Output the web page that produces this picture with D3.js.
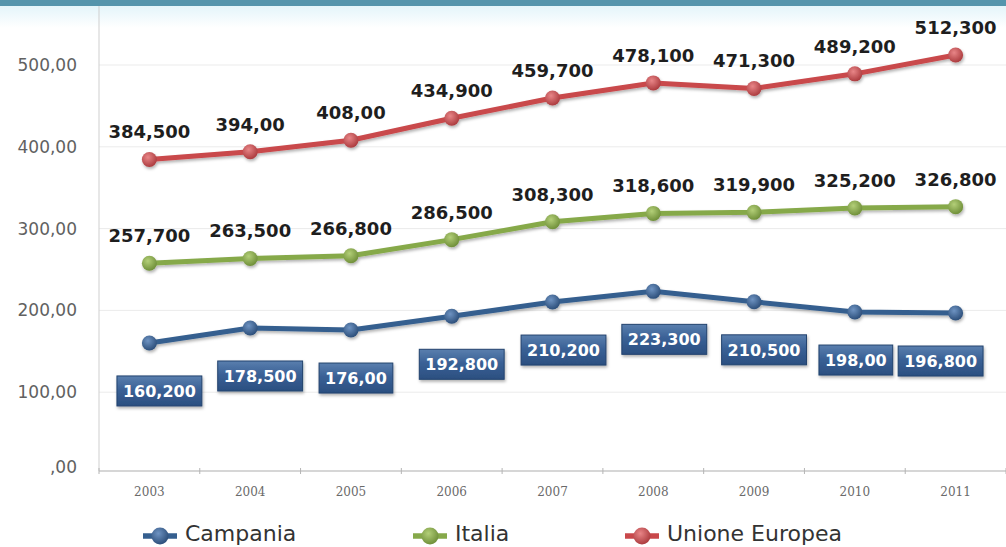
<!DOCTYPE html>
<html>
<head>
<meta charset="utf-8">
<script src="https://cdn.jsdelivr.net/npm/d3@7"></script>
<style>
  html, body { margin: 0; padding: 0; background: #ffffff; }
  svg { display: block; }
</style>
</head>
<body>
<svg id="chart" width="1006" height="547"></svg>
<script>
// Years on the x axis
const years = ["2003", "2004", "2005", "2006", "2007", "2008", "2009", "2010", "2011"];

// Series values
const campania = [160.2, 178.5, 176.0, 192.8, 210.2, 223.3, 210.5, 198.0, 196.8];
const italia = [257.7, 263.5, 266.8, 286.5, 308.3, 318.6, 319.9, 325.2, 326.8];
const unioneEuropea = [384.5, 394.0, 408.0, 434.9, 459.7, 478.1, 471.3, 489.2, 512.3];

// Value labels as printed
const campaniaLabels = ["160,200", "178,500", "176,00", "192,800", "210,200", "223,300", "210,500", "198,00", "196,800"];
const italiaLabels = ["257,700", "263,500", "266,800", "286,500", "308,300", "318,600", "319,900", "325,200", "326,800"];
const ueLabels = ["384,500", "394,00", "408,00", "434,900", "459,700", "478,100", "471,300", "489,200", "512,300"];

// Y axis ticks
const yTicks = [0, 100, 200, 300, 400, 500];
const yTickLabels = [",00", "100,00", "200,00", "300,00", "400,00", "500,00"];

const seriesNames = ["Campania", "Italia", "Unione Europea"];

(function () {
const svg = d3.select("#chart");
const W = 1006;
const mLeft = 99, mRight = 1006, mTop = 6, mBottom = 471;

const x = d3.scaleBand().domain(years).range([mLeft, mRight]).paddingInner(0).paddingOuter(0);
const y = d3.scaleLinear().domain([0, 500]).range([474, 65]);

const defs = svg.append("defs");

// header band
const hg = defs.append("linearGradient").attr("id", "headFade").attr("x1", 0).attr("y1", 0).attr("x2", 0).attr("y2", 1);
hg.append("stop").attr("offset", "0%").attr("stop-color", "#e4f5fa");
hg.append("stop").attr("offset", "100%").attr("stop-color", "#ffffff");
svg.append("rect").attr("x", 0).attr("y", 6).attr("width", W).attr("height", 22).attr("fill", "url(#headFade)");
svg.append("rect").attr("x", 0).attr("y", 0).attr("width", W).attr("height", 6).attr("fill", "#5595ac");

// marker gradients
const palettes = {
  Campania: { line: "#355f8f", light: "#6e93c2", dark: "#284a75" },
  Italia: { line: "#86a94a", light: "#b3cf78", dark: "#6b8b35" },
  "Unione Europea": { line: "#c9484b", light: "#e88587", dark: "#a8373a" }
};
seriesNames.forEach((name, i) => {
  const g = defs.append("radialGradient").attr("id", "mk" + i).attr("cx", "40%").attr("cy", "35%").attr("r", "70%");
  g.append("stop").attr("offset", "0%").attr("stop-color", palettes[name].light);
  g.append("stop").attr("offset", "100%").attr("stop-color", palettes[name].dark);
});
const bg = defs.append("linearGradient").attr("id", "boxFill").attr("x1", 0).attr("y1", 0).attr("x2", 0).attr("y2", 1);
bg.append("stop").attr("offset", "0%").attr("stop-color", "#5a7fae");
bg.append("stop").attr("offset", "45%").attr("stop-color", "#3a6196");
bg.append("stop").attr("offset", "100%").attr("stop-color", "#2b4f80");

const shadow = defs.append("filter").attr("id", "shadow").attr("x", "-10%").attr("y", "-50%").attr("width", "120%").attr("height", "200%");
shadow.append("feDropShadow").attr("dx", 1).attr("dy", 2).attr("stdDeviation", 1.5).attr("flood-color", "#000").attr("flood-opacity", 0.3);

// gridlines
svg.append("g").selectAll("line").data(yTicks.slice(1)).join("line")
  .attr("x1", mLeft).attr("x2", mRight)
  .attr("y1", d => y(d)).attr("y2", d => y(d))
  .attr("stroke", "#ebebeb").attr("stroke-width", 1);

// y axis
const yAxis = d3.axisLeft(y).tickValues(yTicks).tickSize(0).tickPadding(22)
  .tickFormat((d, i) => yTickLabels[i]);
const yg = svg.append("g").attr("transform", `translate(${mLeft},0)`).call(yAxis);
yg.select(".domain").attr("stroke", "#cfcfcf").attr("d", `M0,${mTop}V${mBottom}`);
yg.selectAll("text").attr("font-family", "DejaVu Sans, Verdana, sans-serif").attr("font-size", 17).attr("fill", "#616161");
yg.selectAll(".tick").filter(d => d === 0).select("text").attr("dy", "-0.1em");

// x axis
const xAxis = d3.axisBottom(x).tickSize(0).tickPadding(16);
const xg = svg.append("g").attr("transform", `translate(0,${mBottom})`).call(xAxis);
xg.select(".domain").attr("stroke", "#c8c8c8").attr("stroke-width", 1.5).attr("d", `M${mLeft},0H${mRight}`);
xg.selectAll("text").attr("font-family", "DejaVu Serif, serif").attr("font-size", 12).attr("fill", "#6a6a6a");
// boundary ticks between categories
xg.append("g").selectAll("line").data(years.map(d => x(d)).concat([mRight])).join("line")
  .attr("x1", d => d).attr("x2", d => d).attr("y1", -3).attr("y2", 3)
  .attr("stroke", "#b5b5b5");

const cx = d => x(d) + x.bandwidth() / 2;
const line = d3.line().x(d => cx(d.year)).y(d => y(d.value));

const allSeries = [
  { name: "Campania", values: campania, labels: campaniaLabels },
  { name: "Italia", values: italia, labels: italiaLabels },
  { name: "Unione Europea", values: unioneEuropea, labels: ueLabels }
];

allSeries.forEach((s, si) => {
  const pts = years.map((yr, i) => ({ year: yr, value: s.values[i], label: s.labels[i] }));
  const g = svg.append("g").attr("filter", "url(#shadow)");
  g.append("path").datum(pts).attr("d", line)
    .attr("fill", "none").attr("stroke", palettes[s.name].line).attr("stroke-width", 5)
    .attr("stroke-linejoin", "round");
  g.selectAll("circle").data(pts).join("circle")
    .attr("cx", d => cx(d.year)).attr("cy", d => y(d.value)).attr("r", 7.5)
    .attr("fill", `url(#mk${si})`);
});

// labels above Italia and Unione Europea
[allSeries[1], allSeries[2]].forEach(s => {
  svg.append("g").selectAll("text").data(years.map((yr, i) => ({ year: yr, value: s.values[i], label: s.labels[i] }))).join("text")
    .attr("x", d => cx(d.year))
    .attr("y", d => y(d.value) - 21)
    .attr("text-anchor", "middle")
    .attr("font-family", "DejaVu Sans, Verdana, sans-serif")
    .attr("font-weight", "bold").attr("font-size", 18).attr("fill", "#1e1e1e")
    .text(d => d.label);
});

// boxed labels below Campania, nudged sideways so neighbours do not collide
const boxShift = [10, 10, 5, 10, 11, 11, 10, 1, -15];
const boxG = svg.append("g");
years.forEach((yr, i) => {
  const px = cx(yr) + boxShift[i], py = y(campania[i]) + 48;
  const t = boxG.append("text")
    .attr("x", px).attr("y", py + 6)
    .attr("text-anchor", "middle")
    .attr("font-family", "DejaVu Sans, Verdana, sans-serif")
    .attr("font-weight", "bold").attr("font-size", 16).attr("fill", "#ffffff")
    .text(campaniaLabels[i]);
  const bb = t.node().getBBox();
  boxG.insert("rect", "text")
    .attr("x", bb.x - 6).attr("y", py - 15).attr("width", bb.width + 12).attr("height", 30)
    .attr("fill", "url(#boxFill)").attr("stroke", "#23436e").attr("stroke-width", 1)
    .attr("filter", "url(#shadow)");
});

// legend
const legendX = [143, 413, 625];
const lg = svg.append("g");
allSeries.forEach((s, si) => {
  const lx = legendX[si], ly = 536;
  lg.append("line").attr("x1", lx).attr("x2", lx + 34).attr("y1", ly).attr("y2", ly)
    .attr("stroke", palettes[s.name].line).attr("stroke-width", 5.5);
  lg.append("circle").attr("cx", lx + 17).attr("cy", ly).attr("r", 8.5).attr("fill", `url(#mk${si})`);
  lg.append("text").attr("x", lx + 42).attr("y", 541)
    .attr("font-family", "DejaVu Sans, Verdana, sans-serif").attr("font-size", 22).attr("fill", "#333")
    .attr("textLength", null)
    .text(s.name);
});
})();
</script>
</body>
</html>
